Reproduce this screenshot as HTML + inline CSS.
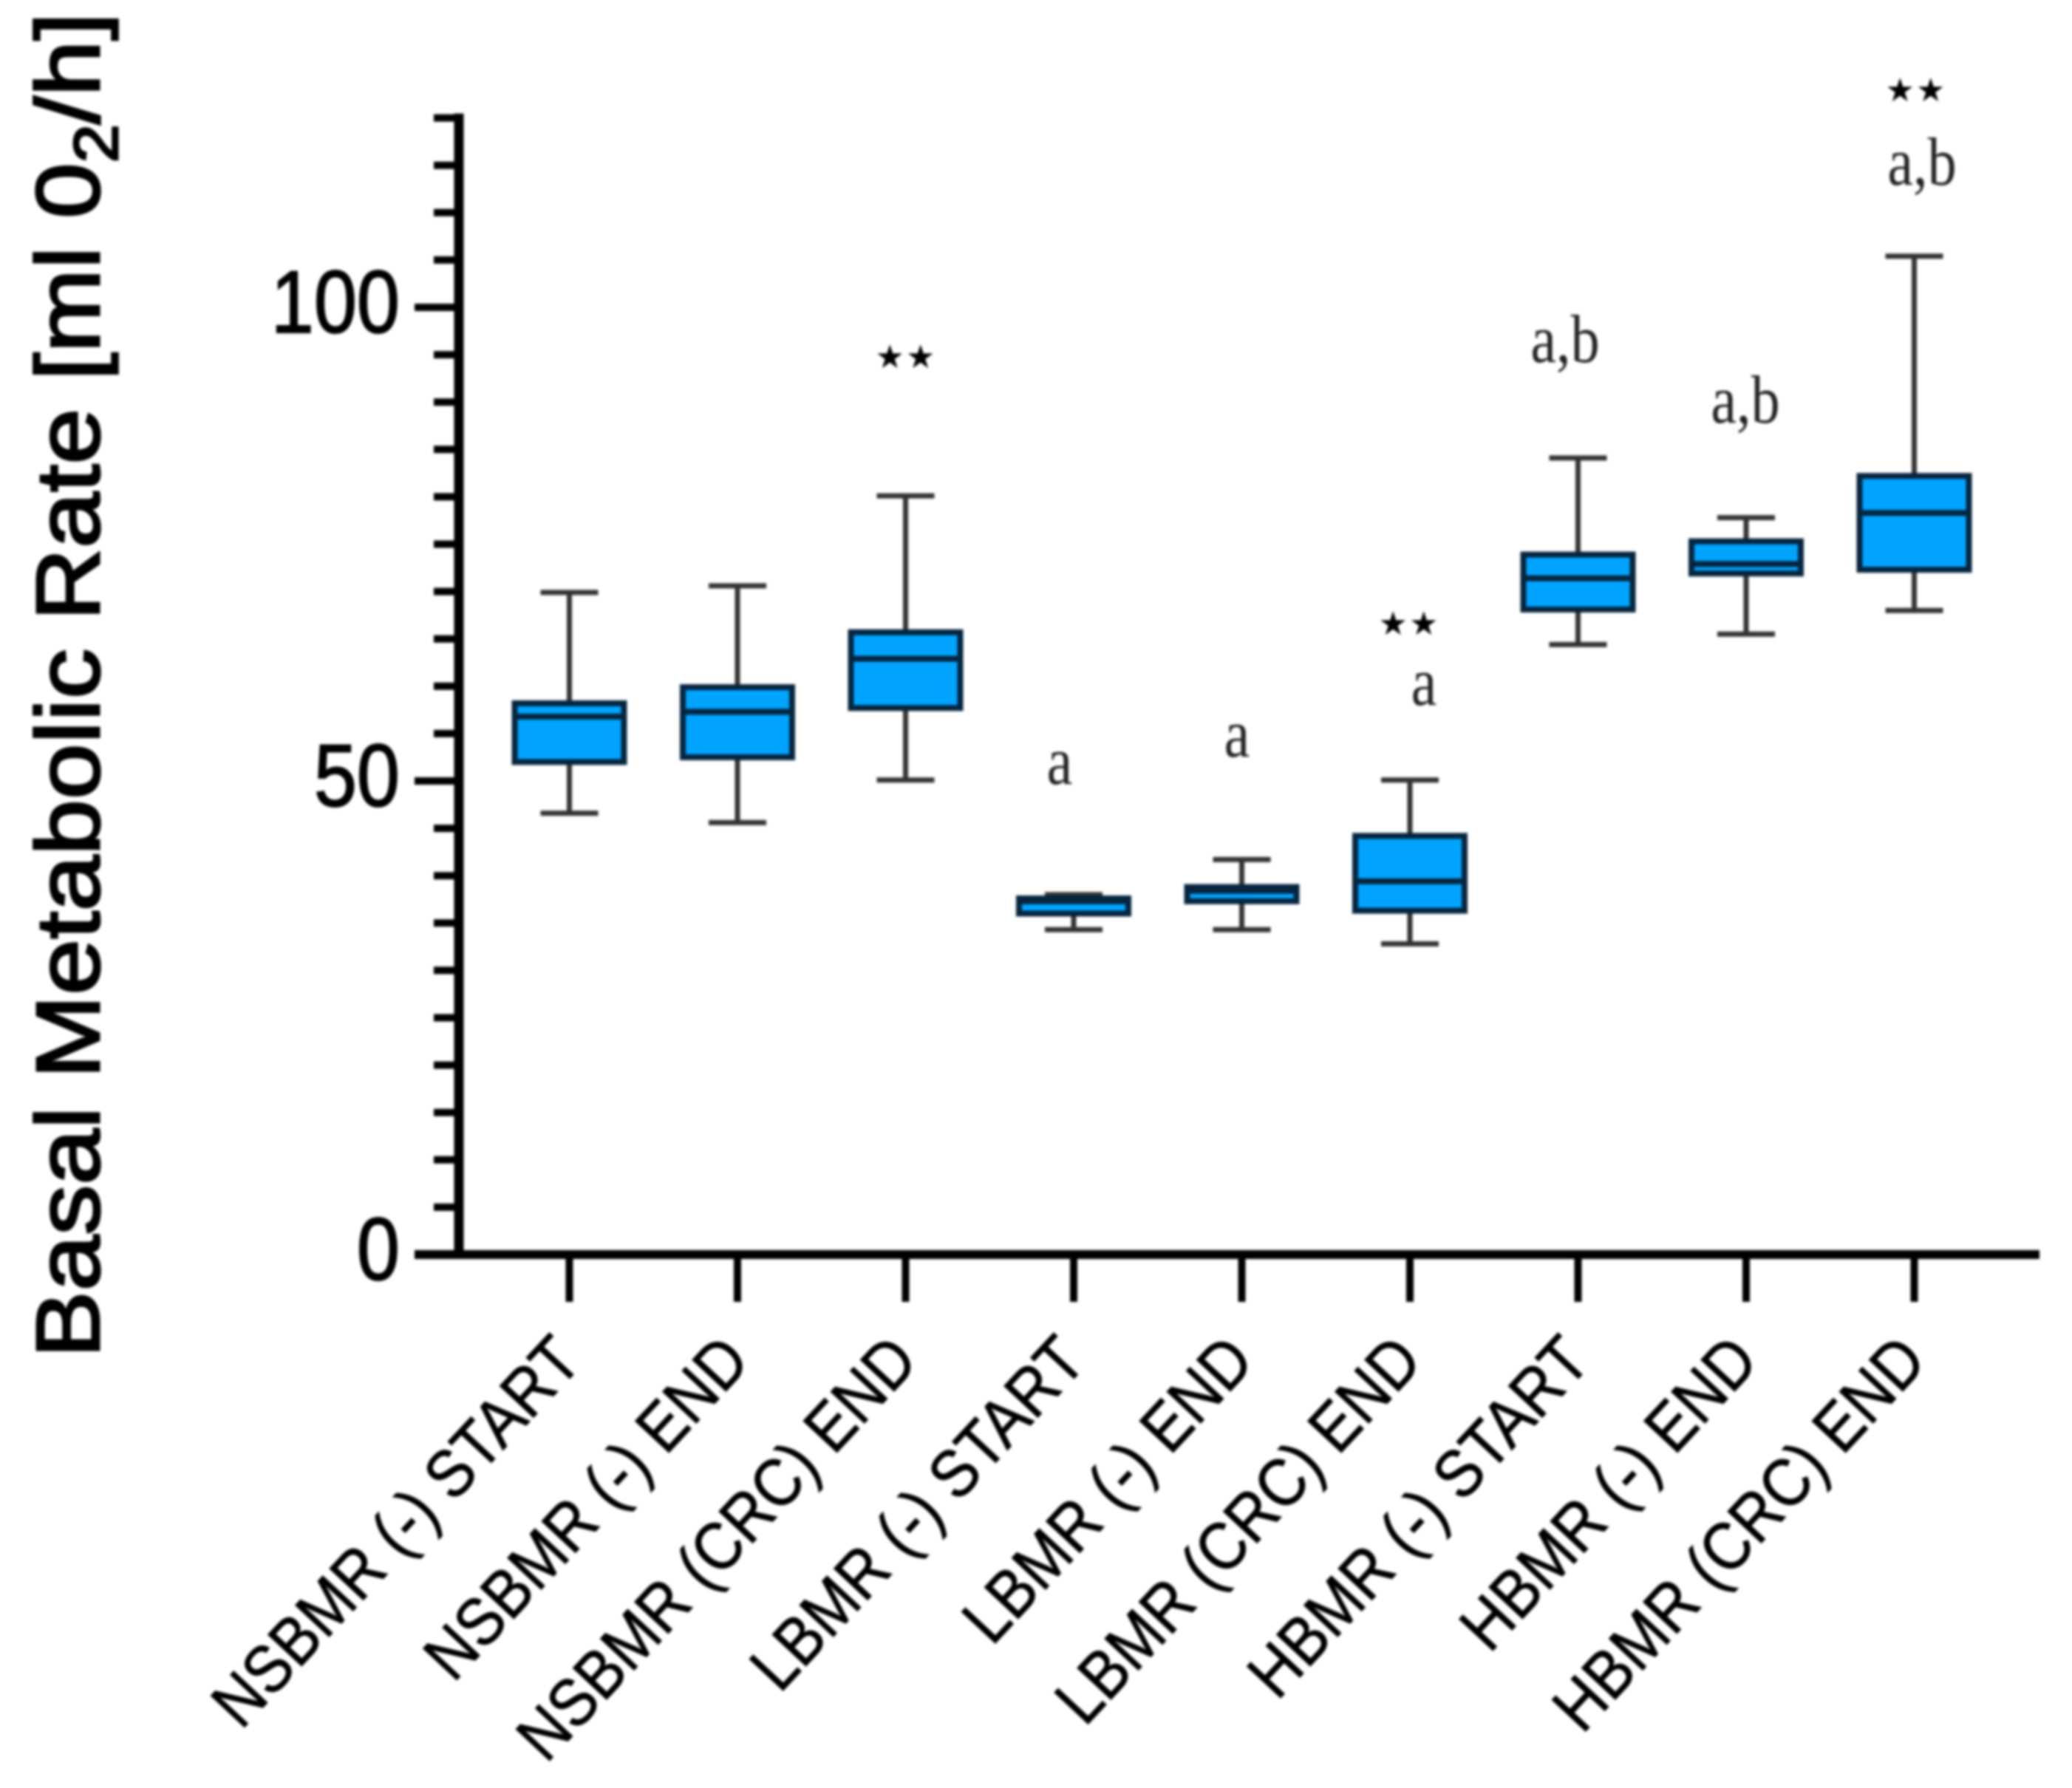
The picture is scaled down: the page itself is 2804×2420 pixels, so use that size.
<!DOCTYPE html>
<html lang="en">
<head>
<meta charset="utf-8">
<title>Basal Metabolic Rate box plot</title>
<style>
html,body{margin:0;padding:0;background:#fff;}
#chart{display:block;width:2804px;height:2420px;filter:blur(1.9px);}
text{font-family:"Liberation Sans",sans-serif;fill:#000;}
.note{font-family:"Liberation Serif",serif;font-size:92px;fill:#222;text-anchor:middle;}
.stars{font-family:"DejaVu Sans",sans-serif;font-size:44px;fill:#000;text-anchor:middle;letter-spacing:2px;}
</style>
</head>
<body>
<svg id="chart" xmlns="http://www.w3.org/2000/svg" width="2804" height="2420" viewBox="0 0 2804 2420">
  <rect width="2804" height="2420" fill="#fff"></rect>
  <g id="axes"></g>
  <g id="boxes"></g>
  <g id="annotations">
    <text class="stars" x="1226" y="498">★★</text>
    <text class="note" transform="translate(1434 1061) scale(.85 1)">a</text>
    <text class="note" transform="translate(1674 1024) scale(.85 1)">a</text>
    <text class="stars" x="1907" y="859">★★</text>
    <text class="note" transform="translate(1927 954) scale(.85 1)">a</text>
    <text class="note" transform="translate(2118 490) scale(.85 1)">a,b</text>
    <text class="note" transform="translate(2362 572) scale(.85 1)">a,b</text>
    <text class="stars" x="2593" y="137">★★</text>
    <text class="note" transform="translate(2601 250) scale(.85 1)">a,b</text>
  </g>
  <text id="y-title" transform="translate(134 1838) rotate(-90) scale(1.115 1)" font-size="122" stroke="#000" stroke-width="3">Basal Metabolic Rate [ml 0<tspan font-size="84" dy="25">2</tspan><tspan dy="-25">/h]</tspan></text>
</svg>
<script>
const categories = ["NSBMR (-) START","NSBMR (-) END","NSBMR (CRC) END","LBMR (-) START","LBMR (-) END","LBMR (CRC) END","HBMR (-) START","HBMR (-) END","HBMR (CRC) END"];
const whiskerHigh = [69.9,70.6,80.1,38.0,41.7,50.1,84.1,77.8,105.4];
const quartile3 = [58.2,59.9,65.7,37.6,38.8,44.2,73.9,75.3,82.2];
const medians = [56.8,57.3,62.9,37.3,38.4,39.4,71.4,72.9,78.3];
const quartile1 = [52.0,52.5,57.7,36.0,37.3,36.3,68.1,71.9,72.3];
const whiskerLow = [46.6,45.6,50.1,34.3,34.3,32.8,64.4,65.5,68.0];
const majorTicks = [0,50,100];
const minorTicks = [5,10,15,20,25,30,35,40,45,55,60,65,70,75,80,85,90,95,105,110,115,120];

const NS = "http://www.w3.org/2000/svg";
const Y0 = 1698, Y_UNIT = 12.82, X0 = 770.5, X_STEP = 227.5;
const BOX_W = 148, CAP_W = 78;
function yScale(v){ return Y0 - v * Y_UNIT; }
function xScale(i){ return X0 + i * X_STEP; }
function mk(tag, attrs, parent){
  const el = document.createElementNS(NS, tag);
  for (const k in attrs) el.setAttribute(k, attrs[k]);
  parent.appendChild(el);
  return el;
}
const axes = document.getElementById("axes");
const boxes = document.getElementById("boxes");

let el;
el = mk("line",{x1:621,x2:621,y1:yScale(120)-6,y2:yScale(0)+6,stroke:"#000","stroke-width":13},axes);


el = mk("line",{x1:561,x2:2760,y1:yScale(0),y2:yScale(0),stroke:"#000","stroke-width":12},axes);



minorTicks.forEach(function(v){
  const t = mk("line",{x1:587,x2:621,y1:yScale(v),y2:yScale(v),stroke:"#000","stroke-width":10},axes);
  
  
});
majorTicks.forEach(function(v){
  const t = mk("line",{x1:561,x2:621,y1:yScale(v),y2:yScale(v),stroke:"#000","stroke-width":10},axes);
  
  
  const l = mk("text",{transform:"translate(541 "+(yScale(v)+34)+") scale(.87 1)","font-size":120,"text-anchor":"end",stroke:"#000","stroke-width":2},axes);
  l.textContent = String(v);
  
  
});

categories.forEach(function(name,i){
  const x = xScale(i);
  const t = mk("line",{x1:x,x2:x,y1:yScale(0),y2:1762,stroke:"#000","stroke-width":10},axes);
  
  
  const l = mk("text",{transform:"translate("+(x+20)+" 1845) rotate(-47) scale(.97 1.08)","font-size":84,"text-anchor":"end",stroke:"#000","stroke-width":1},axes);
  l.textContent = name;
  
  

  const g = mk("g",{},boxes);
  
  
  const wStyle = {stroke:"#333","stroke-width":7};
  const wu = mk("line",Object.assign({x1:x,x2:x,y1:yScale(whiskerHigh[i]),y2:yScale(quartile3[i])},wStyle),g);
  
  
  const wl = mk("line",Object.assign({x1:x,x2:x,y1:yScale(quartile1[i]),y2:yScale(whiskerLow[i])},wStyle),g);
  
  
  const cu = mk("line",Object.assign({x1:x-CAP_W/2,x2:x+CAP_W/2,y1:yScale(whiskerHigh[i]),y2:yScale(whiskerHigh[i])},wStyle),g);
  
  
  const cl = mk("line",Object.assign({x1:x-CAP_W/2,x2:x+CAP_W/2,y1:yScale(whiskerLow[i]),y2:yScale(whiskerLow[i])},wStyle),g);
  
  
  const b = mk("rect",{x:x-BOX_W/2,y:yScale(quartile3[i]),width:BOX_W,height:yScale(quartile1[i])-yScale(quartile3[i]),fill:"#00a4ff",stroke:"#06253f","stroke-width":8},g);
  
  
  const m = mk("line",{x1:x-BOX_W/2,x2:x+BOX_W/2,y1:yScale(medians[i]),y2:yScale(medians[i]),stroke:"#06253f","stroke-width":8},g);
  
  
});
</script>
</body>
</html>
